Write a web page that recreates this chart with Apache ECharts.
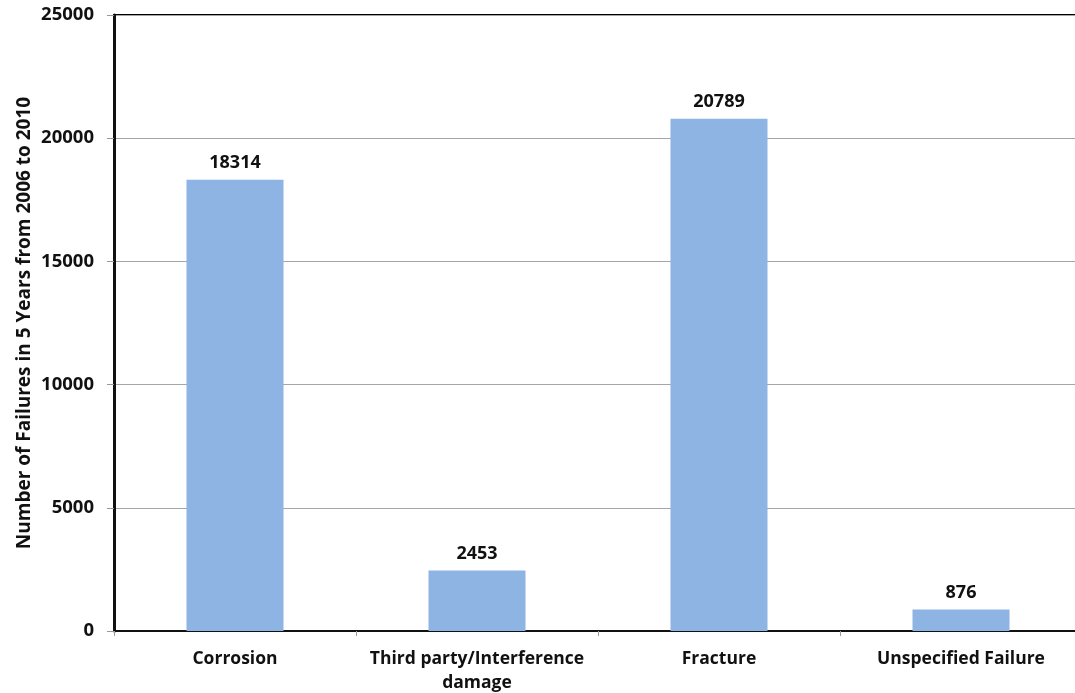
<!DOCTYPE html>
<html>
<head>
<meta charset="utf-8">
<script src="https://cdn.jsdelivr.net/npm/echarts@6/dist/echarts.min.js"></script>
<style>
  html, body { margin: 0; padding: 0; background: #fff; }
  #chart { width: 1075px; height: 693px; }
</style>
</head>
<body>
<div id="chart"></div>
<script>
// Pipeline failure causes, 2006-2010
const categories = ['Corrosion', 'Third party/Interference\ndamage', 'Fracture', 'Unspecified Failure'];
const failures = [18314, 2453, 20789, 876];
const yTicks = [0, 5000, 10000, 15000, 20000, 25000];

const FONT = '"Open Sans", "Liberation Sans", sans-serif';

const chart = echarts.init(document.getElementById('chart'));
chart.setOption({
  animation: false,
  backgroundColor: '#ffffff',
  grid: {
    left: 114,
    top: 15,
    width: 968,
    bottom: 62,
    outerBoundsMode: 'none',
    containLabel: false,
    show: true,
    borderColor: '#000',
    borderWidth: 2,
    backgroundColor: 'transparent'
  },
  xAxis: {
    type: 'category',
    data: categories,
    boundaryGap: true,
    axisLine: { show: true, lineStyle: { color: '#111', width: 2 } },
    axisTick: { show: true, length: 5, lineStyle: { color: '#999', width: 1 } },
    axisLabel: {
      margin: 16,
      color: '#111',
      fontFamily: FONT,
      fontWeight: 'bold',
      fontSize: 17.5,
      lineHeight: 24,
      interval: 0
    }
  },
  yAxis: {
    type: 'value',
    min: yTicks[0],
    max: yTicks[yTicks.length - 1],
    interval: 5000,
    name: 'Number of Failures in 5 Years from 2006 to 2010',
    nameLocation: 'middle',
    nameGap: 80,
    nameMoveOverlap: false,
    nameRotate: 90,
    nameTextStyle: {
      color: '#111',
      fontFamily: FONT,
      fontWeight: 'bold',
      fontSize: 19
    },
    axisLine: { show: true, lineStyle: { color: '#111', width: 3 } },
    axisTick: { show: true, inside: false, length: 7, lineStyle: { color: '#999', width: 1 } },
    axisLabel: {
      margin: 20,
      color: '#111',
      fontFamily: FONT,
      fontWeight: 'bold',
      fontSize: 18.5,
      formatter: (v) => String(v)
    },
    splitLine: { show: true, lineStyle: { color: '#a6a6a6', width: 1 } }
  },
  series: [{
    type: 'bar',
    data: failures,
    barWidth: 97,
    itemStyle: { color: '#8eb4e3' },
    label: {
      show: true,
      position: 'top',
      distance: 8,
      color: '#111',
      fontFamily: FONT,
      fontWeight: 'bold',
      fontSize: 18
    }
  }]
});
</script>
</body>
</html>
